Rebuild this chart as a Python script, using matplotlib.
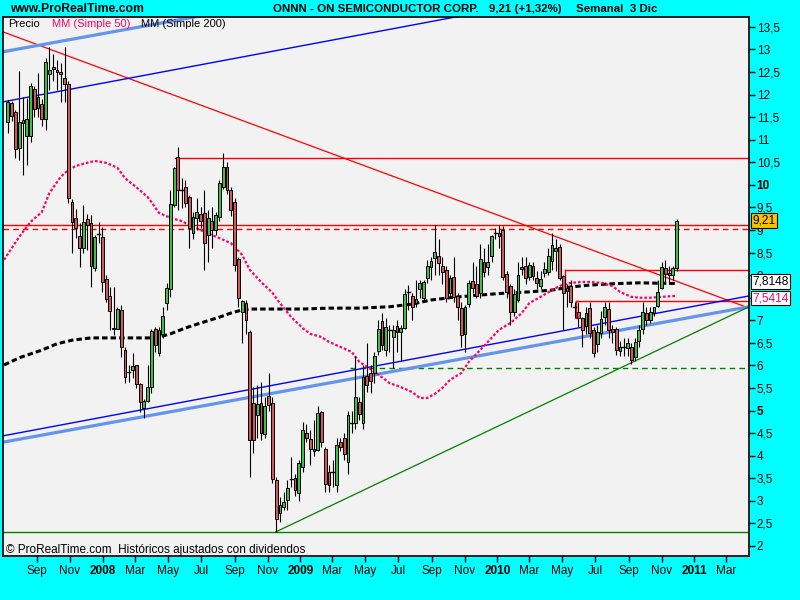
import matplotlib
matplotlib.use('Agg')
import matplotlib.pyplot as plt
import matplotlib.dates as mdates
import matplotlib.transforms as mtransforms
from matplotlib.patches import Rectangle
import numpy as np
import pandas as pd

plt.rcParams['font.family'] = ['Liberation Sans', 'DejaVu Sans']

# ---------------- data ----------------
first_week = '2007-07-09'
opens = [11.40, 11.82, 11.62, 10.82, 11.44, 11.08, 11.08, 12.13, 11.70, 11.79,
         11.46, 12.46, 12.57, 12.55, 12.50, 12.37, 12.24, 9.62, 9.27, 8.87,
         8.60, 9.25, 9.16, 8.16, 8.91, 8.85, 7.92, 7.54, 6.84, 6.81,
         7.23, 6.34, 5.86, 5.90, 6.01, 5.59, 5.06, 5.21, 5.52, 6.81,
         6.28, 6.70, 7.38, 7.69, 9.56, 10.62, 9.89, 9.95, 9.73, 8.93,
         9.27, 9.36, 9.38, 8.89, 9.20, 9.00, 9.29, 9.95, 10.40, 9.89,
         9.62, 8.36, 7.19, 7.38, 6.74, 5.17, 4.90, 5.17, 4.48, 5.32,
         5.17, 3.46, 2.73, 2.86, 3.02, 3.50, 3.50, 3.17, 3.75, 4.50,
         4.37, 4.15, 4.13, 4.97, 4.15, 3.64, 3.64, 3.35, 4.30, 4.39,
         3.86, 4.75, 4.73, 5.19, 4.73, 5.77, 5.83, 5.83, 6.32, 6.99,
         6.34, 6.77, 6.63, 6.88, 6.74, 6.83, 7.63, 7.54, 7.38, 7.69,
         7.49, 7.94, 8.18, 8.38, 8.43, 8.21, 8.12, 7.60, 7.96, 7.54,
         7.27, 6.70, 7.36, 7.87, 7.80, 7.60, 8.30, 8.18, 8.43, 8.93,
         8.94, 9.00, 8.03, 7.76, 7.18, 7.45, 8.14, 8.21, 7.96, 8.21,
         7.94, 7.76, 8.05, 8.07, 8.32, 8.54, 8.63, 7.98, 7.65, 7.76,
         7.30, 7.18, 7.05, 6.88, 7.27, 6.79, 6.48, 6.72, 7.07, 7.25,
         6.81, 6.81, 6.32, 6.41, 6.39, 6.41, 6.19, 6.54, 6.81, 7.16,
         7.01, 7.16, 7.32, 7.72, 8.16, 8.05, 8.00, 8.16]
highs = [11.88, 11.86, 11.66, 12.52, 11.95, 11.93, 12.25, 12.20, 12.48, 11.90,
         12.81, 13.06, 12.90, 12.77, 12.70, 13.06, 12.30, 9.69, 9.47, 9.16,
         9.55, 9.36, 9.33, 8.90, 9.18, 9.06, 8.00, 7.74, 7.74, 7.30,
         7.34, 6.40, 6.01, 6.28, 6.01, 5.60, 5.26, 6.01, 6.80, 6.85,
         6.85, 7.30, 7.83, 9.89, 10.40, 10.84, 10.15, 10.10, 9.78, 9.40,
         9.70, 9.50, 9.89, 9.45, 9.50, 9.40, 10.10, 10.71, 10.50, 9.95,
         9.70, 8.40, 7.45, 7.45, 6.79, 5.52, 5.57, 5.63, 5.30, 5.83,
         5.30, 3.53, 3.09, 3.20, 3.46, 3.97, 3.60, 3.90, 4.75, 4.70,
         4.57, 4.80, 5.10, 5.00, 4.20, 3.80, 3.90, 4.40, 4.40, 4.50,
         5.00, 5.00, 6.20, 5.30, 6.00, 6.50, 6.00, 6.30, 7.01, 7.16,
         7.05, 6.90, 6.90, 7.00, 6.90, 7.70, 7.78, 7.60, 7.90, 7.90,
         7.90, 8.34, 8.40, 9.11, 8.80, 8.40, 8.20, 8.00, 8.40, 7.60,
         7.40, 7.34, 7.90, 8.30, 8.20, 8.70, 8.60, 8.70, 8.90, 9.05,
         9.11, 9.10, 8.10, 7.80, 7.70, 8.30, 8.40, 8.40, 8.30, 8.30,
         8.10, 8.10, 8.30, 8.60, 8.93, 8.80, 8.70, 8.00, 7.80, 7.90,
         7.41, 7.41, 7.07, 7.30, 7.40, 6.85, 6.90, 7.20, 7.40, 7.40,
         6.90, 6.85, 6.55, 6.60, 6.60, 6.50, 6.60, 6.90, 7.40, 7.30,
         7.30, 7.30, 7.90, 8.30, 8.34, 8.20, 8.20, 9.25]
lows = [11.15, 11.42, 10.60, 10.55, 10.22, 10.44, 10.95, 11.50, 11.50, 11.30,
        11.22, 12.10, 12.30, 12.10, 11.84, 11.84, 9.60, 8.49, 8.82, 8.18,
        8.50, 8.56, 7.74, 8.10, 8.71, 7.63, 7.40, 6.79, 6.68, 6.80,
        6.19, 5.60, 5.63, 5.72, 5.50, 4.97, 4.84, 5.20, 5.40, 6.30,
        6.20, 6.60, 7.23, 7.52, 9.50, 9.45, 9.49, 9.50, 8.60, 8.80,
        9.00, 9.05, 8.12, 8.30, 8.60, 8.90, 9.20, 9.90, 9.80, 9.30,
        8.10, 7.30, 6.50, 6.70, 3.53, 4.06, 4.39, 4.35, 4.40, 5.00,
        3.40, 2.31, 2.53, 2.80, 2.80, 3.30, 3.10, 3.00, 3.64, 4.30,
        3.80, 4.00, 4.10, 4.20, 3.20, 3.20, 3.30, 3.20, 4.10, 3.90,
        3.60, 4.50, 4.60, 4.80, 4.60, 5.41, 5.40, 5.60, 6.23, 6.34,
        6.21, 6.30, 5.95, 6.30, 6.10, 6.80, 7.23, 7.00, 7.30, 7.50,
        7.40, 7.83, 7.90, 8.00, 8.00, 7.80, 7.40, 7.50, 7.40, 7.00,
        6.40, 6.30, 7.30, 7.60, 7.50, 7.50, 7.95, 8.00, 8.30, 8.80,
        8.60, 7.90, 7.50, 6.90, 7.10, 7.40, 8.00, 7.80, 7.90, 7.90,
        7.70, 7.70, 7.95, 8.00, 8.12, 8.10, 7.90, 6.79, 7.30, 7.30,
        7.05, 6.85, 6.41, 6.70, 6.60, 6.19, 6.30, 6.60, 6.90, 6.60,
        6.50, 6.23, 6.20, 6.20, 6.20, 6.03, 6.10, 6.40, 6.70, 6.90,
        6.95, 7.10, 7.30, 7.70, 7.85, 7.80, 7.90, 8.10]
closes = [11.84, 11.53, 10.80, 11.40, 11.37, 11.46, 12.19, 11.68, 11.95, 11.46,
          12.72, 12.55, 12.61, 12.50, 12.45, 12.24, 9.72, 9.18, 9.05, 8.60,
          9.18, 9.11, 8.20, 8.85, 8.91, 7.85, 7.47, 7.21, 6.80, 7.25,
          6.41, 5.74, 5.86, 5.99, 5.59, 5.19, 5.21, 5.52, 6.76, 6.45,
          6.79, 7.10, 7.72, 9.58, 10.38, 9.89, 9.89, 9.60, 9.05, 9.29,
          9.40, 9.20, 8.71, 9.27, 9.00, 9.33, 10.04, 10.40, 9.89, 9.45,
          8.23, 7.50, 7.43, 7.01, 4.35, 4.35, 5.15, 4.50, 5.10, 5.12,
          3.48, 2.60, 2.91, 2.98, 3.29, 3.48, 3.24, 3.84, 4.57, 4.39,
          4.15, 4.11, 4.95, 4.30, 3.37, 3.35, 3.64, 4.24, 4.19, 4.04,
          4.90, 4.73, 5.30, 4.93, 5.74, 5.57, 5.66, 6.21, 6.81, 6.45,
          6.85, 6.79, 6.79, 6.74, 6.83, 7.58, 7.63, 7.29, 7.47, 7.83,
          7.85, 8.21, 8.32, 8.52, 8.27, 8.07, 7.49, 7.94, 7.52, 7.29,
          6.68, 7.29, 7.83, 7.72, 7.54, 8.36, 8.07, 8.30, 8.87, 8.93,
          8.87, 7.96, 7.63, 7.18, 7.58, 8.01, 8.18, 7.94, 8.23, 7.98,
          7.83, 7.92, 8.14, 8.43, 8.67, 8.60, 7.94, 7.60, 7.72, 7.41,
          7.30, 7.05, 6.79, 7.16, 6.72, 6.28, 6.74, 7.03, 7.29, 6.79,
          6.74, 6.34, 6.41, 6.41, 6.50, 6.12, 6.52, 6.79, 7.18, 7.01,
          7.18, 7.29, 7.63, 8.18, 8.03, 8.00, 8.16, 9.21]

# moving averages (week index, value)
ma50_week = [-1, 3, 6, 9, 11, 14, 16, 18, 21, 23, 26, 29, 31, 34, 37, 38, 40, 43, 46, 48,
             51, 54, 56, 59, 62, 64, 67, 70, 72, 75, 78, 80, 83, 85, 88, 91, 93, 96, 99, 101,
             104, 107, 109, 111, 113, 115, 117, 120, 122, 125, 128, 130, 133, 136, 138, 141, 144, 146, 149, 152,
             154, 157, 160, 162, 165, 167, 170, 173, 177]
ma50_vals = [8.34, 8.85, 9.18, 9.40, 9.82, 10.18, 10.33, 10.42, 10.49, 10.53, 10.49, 10.38, 10.15, 9.95, 9.73, 9.62, 9.38, 9.27, 9.20, 9.11,
             9.00, 8.89, 8.82, 8.71, 8.45, 8.12, 7.85, 7.61, 7.38, 7.07, 6.83, 6.70, 6.63, 6.52, 6.41, 6.30, 6.08, 5.92, 5.74, 5.61,
             5.52, 5.41, 5.28, 5.28, 5.37, 5.50, 5.68, 5.83, 6.08, 6.34, 6.61, 6.79, 6.94, 7.16, 7.38, 7.52, 7.67, 7.76, 7.83, 7.85,
             7.85, 7.83, 7.76, 7.63, 7.52, 7.50, 7.50, 7.52, 7.5414]
ma200_week = [-1, 3, 9, 13, 17, 22, 27, 33, 38, 40, 43, 47, 51, 56, 59, 62, 64, 78, 85, 93,
              101, 107, 112, 117, 122, 128, 133, 138, 144, 149, 154, 160, 167, 177]
ma200_vals = [6.01, 6.17, 6.34, 6.48, 6.56, 6.61, 6.61, 6.61, 6.61, 6.63, 6.70, 6.83, 6.94, 7.07, 7.16, 7.23, 7.25, 7.25, 7.27, 7.27,
              7.30, 7.36, 7.45, 7.50, 7.54, 7.58, 7.61, 7.63, 7.67, 7.74, 7.78, 7.81, 7.83, 7.8148]

# drawn lines (anchors: date, price)
red_down = [('2007-06-30', 13.39), ('2011-04-12', 7.27)]
blue_chan = [('2007-06-30', 4.44), ('2011-04-12', 7.54)]
blue_chan_offset = 7.40
lblue_chan = [('2007-06-30', 4.30), ('2011-04-12', 7.30)]
lblue_chan_offset = 8.65
green_up = [('2008-11-16', 2.31), ('2011-04-12', 7.30)]
red_levels = [(10.60, '2008-05-13', '-'), (9.11, '2007-06-30', '-'), (9.02, '2007-06-30', '--'),
              (8.12, '2010-05-06', '-'), (7.43, '2010-05-26', '-')]
red_box_edges = [('2010-05-06', 8.12, 7.74), ('2010-05-26', 7.43, 7.05)]
green_levels = [(2.31, '2007-06-30', '-'), (5.94, '2009-04-03', '--')]

month_names = {3: 'Mar', 5: 'May', 7: 'Jul', 9: 'Sep', 11: 'Nov'}
x_start, x_end = '2007-06-30', '2011-04-12'
y_min, y_max = 1.778, 13.72
last_price, ma200_last, ma50_last = 9.21, 7.8148, 7.5414

# ---------------- figure ----------------
BG = '#00FFFF'
fig = plt.figure(figsize=(8, 6), dpi=100, facecolor=BG)
ax = fig.add_axes([3 / 800, 44 / 600, 746 / 800, 539 / 600])
ax.set_facecolor('#F2F2F2')

dates = pd.date_range(first_week, periods=len(closes), freq='7D')
dnum = mdates.date2num(dates)
x0, x1 = mdates.date2num(pd.Timestamp(x_start)), mdates.date2num(pd.Timestamp(x_end))

def dn(s):
    return mdates.date2num(pd.Timestamp(s))

# horizontal levels
for val, start, ls in red_levels:
    ax.plot([dn(start), x1], [val, val], color='#FF0000', lw=1.0,
            ls=(0, (4, 3)) if ls == '--' else '-', zorder=2)
for d, ya, yb in red_box_edges:
    ax.plot([dn(d), dn(d)], [ya, yb], color='#FF0000', lw=1.0, zorder=2)
for val, start, ls in green_levels:
    ax.plot([dn(start), x1], [val, val], color='#008000', lw=1.0,
            ls=(0, (4, 3)) if ls == '--' else '-', zorder=2)

def line_through(anchors, offset=0.0):
    (da, pa), (db, pb) = anchors
    xa, xb = dn(da), dn(db)
    return [xa, xb], [pa + offset, pb + offset]

xs, ys = line_through(red_down)
ax.plot(xs, ys, color='#FF0000', lw=0.9, zorder=2)
for off in (0.0, blue_chan_offset):
    xs, ys = line_through(blue_chan, off)
    ax.plot(xs, ys, color='#0000FF', lw=1.0, zorder=2)
for off in (0.0, lblue_chan_offset):
    xs, ys = line_through(lblue_chan, off)
    ax.plot(xs, ys, color='#6495ED', lw=2.3, zorder=2)
xs, ys = line_through(green_up)
ax.plot(xs, ys, color='#008000', lw=0.9, zorder=2)

# moving averages
wk = 7.0
ma50_x = dnum[0] + np.array(ma50_week) * wk
ma200_x = dnum[0] + np.array(ma200_week) * wk
ax.plot(ma200_x, ma200_vals, color='black', lw=2.2, ls=(0, (1.8, 1.0)), zorder=3)
ax.plot(ma50_x, ma50_vals, color='#FF0066', lw=1.6, ls=(0, (1.2, 0.9)), zorder=3)

# candles
body_w = 5.2
GREEN, RED = '#40C040', '#D05858'
for x, o, h, l, c in zip(dnum, opens, highs, lows, closes):
    ax.plot([x, x], [l, h], color='black', lw=0.8, zorder=4, solid_capstyle='butt')
    if abs(c - o) < 0.03:
        ax.plot([x - body_w / 2, x + body_w / 2], [c, c], color='black', lw=1.0, zorder=5)
    else:
        col = GREEN if c > o else RED
        ax.add_patch(Rectangle((x - body_w / 2, min(o, c)), body_w, abs(c - o),
                               facecolor=col, edgecolor='black', lw=0.7, zorder=5))

ax.set_xlim(x0, x1)
ax.set_ylim(y_min, y_max)

# y axis on right (the 7,5 label sits under the MA value box, as in the original)
yt = np.arange(2.0, 13.51, 0.5)
ax.yaxis.tick_right()
ax.set_yticks(yt)
ax.set_yticklabels(['' if abs(v - 7.5) < 1e-9 else ('%g' % v).replace('.', ',') for v in yt])
for lab, v in zip(ax.get_yticklabels(), yt):
    if v in (5.0, 10.0):
        lab.set_fontweight('bold')
ax.tick_params(axis='y', direction='out', length=4, width=1, pad=1.5, labelsize=8.5, colors='black')

# x axis month ticks
tick_dates = pd.date_range('2007-09-01', '2011-03-01', freq='2MS')
ax.set_xticks(mdates.date2num(tick_dates))
labels = [str(d.year) if d.month == 1 else month_names[d.month] for d in tick_dates]
ax.set_xticklabels(labels)
for lab, d in zip(ax.get_xticklabels(), tick_dates):
    if d.month == 1:
        lab.set_fontweight('bold')
        lab.set_fontsize(10)
ax.tick_params(axis='x', direction='out', length=4, width=1, pad=2.5, labelsize=8.5)

for s in ax.spines.values():
    s.set_color('black')
    s.set_linewidth(1.2)

# legend texts inside plot
trans_px = ax.transAxes
ax.text(5 / 746, 1 - 7 / 539, 'Precio', transform=trans_px, fontsize=8, color='black', va='center', ha='left')
ax.text(49 / 746, 1 - 7 / 539, 'MM (Simple 50)', transform=trans_px, fontsize=8, color='#FF0066', va='center', ha='left')
ax.text(138 / 746, 1 - 7 / 539, 'MM (Simple 200)', transform=trans_px, fontsize=8, color='black', va='center', ha='left')
ax.text(3 / 746, 6 / 539, '\u00a9 ProRealTime.com  Hist\u00f3ricos ajustados con dividendos', transform=trans_px,
        fontsize=8.5, color='black', va='center', ha='left')

# value boxes on right
bt = mtransforms.blended_transform_factory(ax.transAxes, ax.transData)
box_specs = [(last_price, '%.2f', '#FFC000', 'black', 0),
             (ma200_last, '%.4f', 'white', 'black', 1.6),
             (ma50_last, '%.4f', 'white', '#FF0066', -1.6)]
for val, fmt, fc, tc, dy in box_specs:
    ax.annotate((fmt % val).replace('.', ','), xy=(1.0, val), xycoords=bt,
                xytext=(2.5, dy), textcoords='offset points', va='center', ha='left',
                fontsize=8.6, color=tc, zorder=10, annotation_clip=False,
                bbox=dict(boxstyle='square,pad=0.1', fc=fc, ec='black', lw=0.8))

# header
fig.text(10 / 800, 1 - 9 / 600, 'www.ProRealTime.com', fontsize=8.7, fontweight='bold', va='center', ha='left')
fig.text(273 / 800, 1 - 9 / 600, 'ONNN - ON SEMICONDUCTOR CORP.', fontsize=8.25, fontweight='bold', va='center', ha='left')
fig.text(489 / 800, 1 - 9 / 600, '9,21 (+1,32%)', fontsize=8.25, fontweight='bold', va='center', ha='left')
fig.text(576 / 800, 1 - 9 / 600, 'Semanal  3 Dic', fontsize=8.25, fontweight='bold', va='center', ha='left')

fig.savefig('out.png', dpi=100, facecolor=BG)
